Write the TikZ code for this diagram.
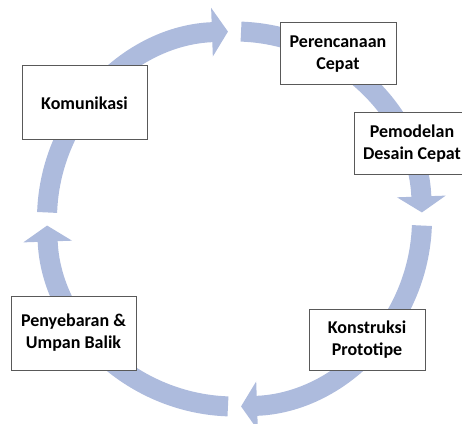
\documentclass[tikz,border=0pt]{standalone}
\usepackage{fontspec}
\setmainfont{Carlito}
\usetikzlibrary{arrows.meta,calc}
\definecolor{ringblue}{RGB}{173,187,221}
\definecolor{boxline}{RGB}{89,89,89}
\tikzset{
  ring/.style={draw=ringblue, line width=20pt, -{Triangle[width=48pt,length=16pt]}},
  stage/.style={draw=boxline, line width=1pt, fill=white, align=center, inner sep=0pt,
    font=\fontsize{18}{22}\selectfont\bfseries, text=black}
}
\begin{document}
\begin{tikzpicture}[x=1pt,y=1pt]
\useasboundingbox (0,0) rectangle (462,423);
\coordinate (c) at (234.5,204);
% ring segments (clockwise)
\draw[ring] ($(c)+(88:187.5)$) arc[start angle=88, end angle=2, radius=187.5];
\draw[ring] ($(c)+(-2:187.5)$) arc[start angle=-2, end angle=-88, radius=187.5];
\draw[ring] ($(c)+(-92:187.5)$) arc[start angle=-92, end angle=-178, radius=187.5];
\draw[ring] ($(c)+(178:187.5)$) arc[start angle=178, end angle=92, radius=187.5];
% stages
\node[stage, minimum width=125pt, minimum height=74pt] (kom) at (84.5,320) {Komunikasi};
\node[stage, minimum width=116pt, minimum height=62pt] (per) at (338,369) {Perencanaan\\Cepat};
\node[stage, minimum width=116pt, minimum height=62pt] (pem) at (412,279) {Pemodelan\\Desain Cepat};
\node[stage, minimum width=116pt, minimum height=61pt] (kon) at (367,83.5) {Konstruksi\\Prototipe};
\node[stage, minimum width=125pt, minimum height=74pt] (pen) at (73.5,90) {Penyebaran \&\\Umpan Balik};
\end{tikzpicture}
\end{document}
